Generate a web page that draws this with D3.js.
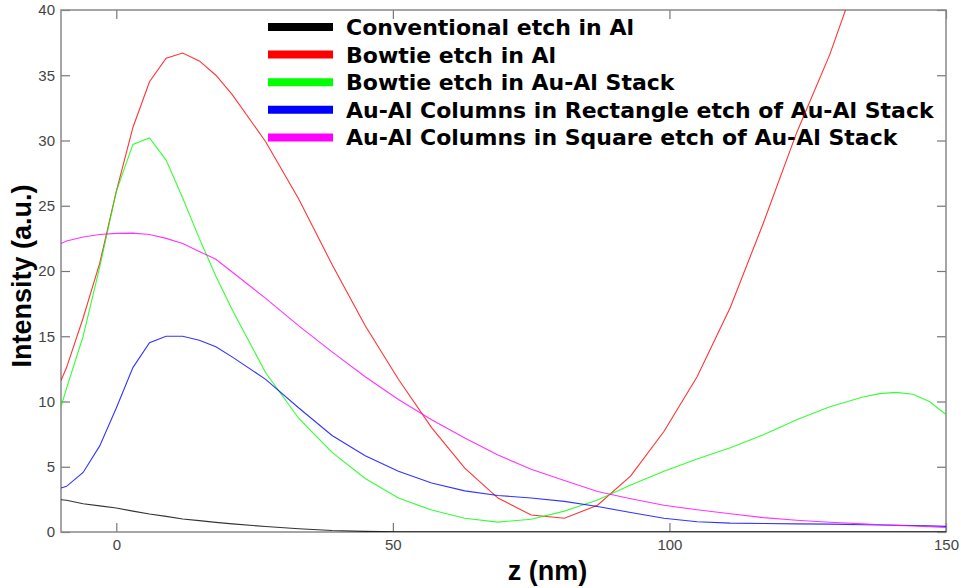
<!DOCTYPE html>
<html>
<head>
<meta charset="utf-8">
<script src="https://cdn.jsdelivr.net/npm/d3@7"></script>
<style>
  html, body { margin: 0; padding: 0; background: #fff; }
  svg { display: block; }
  .tick text { font-family: "Liberation Sans", Arial, sans-serif; font-size: 15px; fill: #444; }
  .tick line { stroke: #777; stroke-width: 1.2; }
</style>
</head>
<body>
<svg width="961" height="588"></svg>
<script>
// z positions (nm) shared by every series
const zValues = [-10, -9, -6, -3, 0, 3, 6, 9, 12, 15, 18, 21, 27, 33, 39, 45, 51, 57, 63, 69,
  75, 81, 87, 93, 99, 105, 111, 117, 123, 129, 135, 138, 141, 144, 147, 150];

const conventionalAl = [2.47, 2.43, 2.17, 2.0, 1.84, 1.6, 1.38, 1.2, 1.0, 0.87, 0.74, 0.62, 0.42, 0.25, 0.12, 0.05, 0.02, 0.01, 0.01, 0.01,
  0.01, 0.01, 0.01, 0.01, 0.01, 0.01, 0.01, 0.01, 0.01, 0.01, 0.01, 0.01, 0.01, 0.01, 0.01, 0.01];
const bowtieAl = [11.6, 12.6, 16.4, 20.6, 26.1, 31.0, 34.5, 36.3, 36.7, 36.1, 35.0, 33.5, 29.9, 25.5, 20.5, 15.8, 11.7, 8.0, 4.9, 2.6,
  1.3, 1.05, 2.05, 4.3, 7.7, 11.9, 17.2, 23.7, 30.6, 36.6, 43.8, 47.4, 51.1, 54.8, 58.6, 62.4];
const bowtieAuAl = [9.6, 11.0, 15.0, 20.3, 26.1, 29.7, 30.2, 28.5, 25.6, 22.5, 19.6, 17.0, 12.2, 8.7, 6.1, 4.1, 2.6, 1.68, 1.05, 0.76,
  0.98, 1.6, 2.45, 3.6, 4.65, 5.6, 6.45, 7.45, 8.6, 9.6, 10.35, 10.6, 10.7, 10.55, 10.0, 9.0];
const rectColumns = [3.37, 3.5, 4.56, 6.6, 9.5, 12.6, 14.5, 15.0, 15.0, 14.7, 14.2, 13.4, 11.7, 9.5, 7.4, 5.85, 4.65, 3.75, 3.15, 2.8,
  2.6, 2.35, 1.95, 1.5, 1.05, 0.78, 0.68, 0.65, 0.62, 0.6, 0.56, 0.54, 0.52, 0.5, 0.47, 0.43];
const squareColumns = [22.1, 22.3, 22.6, 22.8, 22.88, 22.9, 22.8, 22.5, 22.1, 21.5, 20.9, 19.9, 17.9, 15.8, 13.8, 11.9, 10.15, 8.6, 7.2, 5.9,
  4.8, 3.95, 3.1, 2.55, 2.05, 1.7, 1.4, 1.1, 0.9, 0.75, 0.62, 0.56, 0.51, 0.46, 0.4, 0.35];

const seriesNames = [
  "Conventional etch in Al",
  "Bowtie etch in Al",
  "Bowtie etch in Au-Al Stack",
  "Au-Al Columns in Rectangle etch of Au-Al Stack",
  "Au-Al Columns in Square etch of Au-Al Stack"
];
const seriesColors = ["#000000", "#ff0000", "#00ff00", "#0000ff", "#ff00ff"];
const seriesValues = [conventionalAl, bowtieAl, bowtieAuAl, rectColumns, squareColumns];

const xTicks = [0, 50, 100, 150];
const yTicks = [0, 5, 10, 15, 20, 25, 30, 35, 40];

const svg = d3.select("svg");
const plotL = 61, plotR = 946, plotT = 10, plotB = 532;

const x = d3.scaleLinear().domain([-10, 150]).range([plotL, plotR]);
const y = d3.scaleLinear().domain([0, 40]).range([plotB, plotT]);

// clip for the curves
svg.append("defs").append("clipPath").attr("id", "plot-clip")
  .append("rect")
  .attr("x", plotL).attr("y", plotT)
  .attr("width", plotR - plotL).attr("height", plotB - plotT);

// axes with inward ticks on all four sides
const axisB = svg.append("g").attr("transform", `translate(0,${plotB})`)
  .call(d3.axisBottom(x).tickValues(xTicks).tickSizeInner(-9).tickSizeOuter(0).tickPadding(7));
const axisT = svg.append("g").attr("transform", `translate(0,${plotT})`)
  .call(d3.axisTop(x).tickValues(xTicks).tickSizeInner(-9).tickSizeOuter(0).tickFormat(""));
const axisL = svg.append("g").attr("transform", `translate(${plotL},0)`)
  .call(d3.axisLeft(y).tickValues(yTicks).tickSizeInner(-9).tickSizeOuter(0).tickPadding(6));
const axisR = svg.append("g").attr("transform", `translate(${plotR},0)`)
  .call(d3.axisRight(y).tickValues(yTicks).tickSizeInner(-9).tickSizeOuter(0).tickFormat(""));
[axisB, axisT, axisL, axisR].forEach(a => a.select(".domain").remove());

svg.append("rect")
  .attr("x", plotL).attr("y", plotT)
  .attr("width", plotR - plotL).attr("height", plotB - plotT)
  .attr("fill", "none")
  .attr("stroke", "#888")
  .attr("stroke-width", 1.5);

// legend
const legend = svg.append("g");
seriesNames.forEach((name, i) => {
  const ly = 27 + i * 27.6;
  legend.append("line")
    .attr("x1", 268).attr("x2", 333)
    .attr("y1", ly).attr("y2", ly)
    .attr("stroke", seriesColors[i])
    .attr("stroke-width", 8);
  legend.append("text")
    .attr("x", 346).attr("y", ly)
    .attr("dy", "0.36em")
    .style("font-family", "'DejaVu Sans', sans-serif")
    .style("font-weight", "bold")
    .style("font-size", "22px")
    .text(name);
});

// curves
const line = d3.line()
  .x((d, i) => x(zValues[i]))
  .y(d => y(d));

svg.append("g").attr("clip-path", "url(#plot-clip)")
  .selectAll("path")
  .data(seriesValues)
  .join("path")
  .attr("d", line)
  .attr("fill", "none")
  .attr("stroke", (d, i) => seriesColors[i])
  .attr("stroke-width", 1.1)
  .attr("stroke-opacity", 0.8);

// axis titles
svg.append("text")
  .attr("x", (plotL + plotR) / 2 + 44).attr("y", 580)
  .attr("text-anchor", "middle")
  .style("font-family", "'Liberation Sans', Arial, sans-serif")
  .style("font-weight", "bold")
  .style("font-size", "27px")
  .text("z (nm)");

svg.append("text")
  .attr("transform", `translate(31,276) rotate(-90)`)
  .attr("text-anchor", "middle")
  .style("font-family", "'Liberation Sans', Arial, sans-serif")
  .style("font-weight", "bold")
  .style("font-size", "27px")
  .text("Intensity (a.u.)");
</script>
</body>
</html>
